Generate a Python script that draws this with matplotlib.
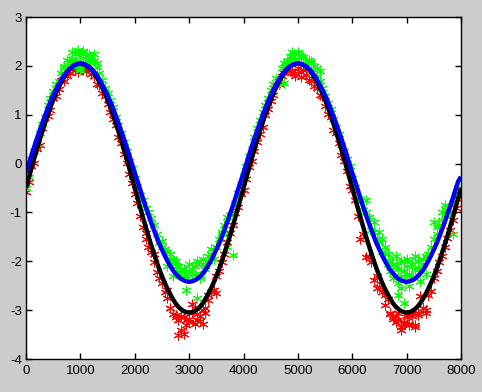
import numpy as np
import matplotlib
matplotlib.use("Agg")
import matplotlib.pyplot as plt

# x grid (step 50) shared by curves and base scatter
x_grid = np.arange(0, 8001, 50)

black_y = [
    -0.50, -0.30, -0.10, 0.10, 0.29, 0.48, 0.66, 0.83, 1.00, 1.16, 1.30, 1.44, 1.56, 1.67, 1.77, 1.86, 1.93, 1.98, 2.02, 2.04,
    2.05, 2.04, 2.02, 1.98, 1.93, 1.86, 1.77, 1.67, 1.56, 1.44, 1.30, 1.16, 1.00, 0.83, 0.66, 0.48, 0.29, 0.10, -0.10, -0.30,
    -0.50, -0.70, -0.90, -1.10, -1.29, -1.48, -1.66, -1.83, -2.00, -2.16, -2.30, -2.44, -2.56, -2.67, -2.77, -2.86, -2.93, -2.98, -3.02, -3.04,
    -3.05, -3.04, -3.02, -2.98, -2.93, -2.86, -2.77, -2.67, -2.56, -2.44, -2.30, -2.16, -2.00, -1.83, -1.66, -1.48, -1.29, -1.10, -0.90, -0.70,
    -0.50, -0.30, -0.10, 0.10, 0.29, 0.48, 0.66, 0.83, 1.00, 1.16, 1.30, 1.44, 1.56, 1.67, 1.77, 1.86, 1.93, 1.98, 2.02, 2.04,
    2.05, 2.04, 2.02, 1.98, 1.93, 1.86, 1.77, 1.67, 1.56, 1.44, 1.30, 1.16, 1.00, 0.83, 0.66, 0.48, 0.29, 0.10, -0.10, -0.30,
    -0.50, -0.70, -0.90, -1.10, -1.29, -1.48, -1.66, -1.83, -2.00, -2.16, -2.30, -2.44, -2.56, -2.67, -2.77, -2.86, -2.93, -2.98, -3.02, -3.04,
    -3.05, -3.04, -3.02, -2.98, -2.93, -2.86, -2.77, -2.67, -2.56, -2.44, -2.30, -2.16, -2.00, -1.83, -1.66, -1.48, -1.29, -1.10, -0.90, -0.70,
    -0.50,
]

blue_y = [
    -0.19, -0.01, 0.17, 0.34, 0.51, 0.67, 0.83, 0.98, 1.13, 1.27, 1.40, 1.51, 1.62, 1.72, 1.81, 1.88, 1.94, 1.99, 2.02, 2.04,
    2.05, 2.04, 2.02, 1.99, 1.94, 1.88, 1.81, 1.72, 1.62, 1.51, 1.40, 1.27, 1.13, 0.98, 0.83, 0.67, 0.51, 0.34, 0.17, -0.01,
    -0.19, -0.36, -0.53, -0.71, -0.88, -1.04, -1.20, -1.35, -1.50, -1.64, -1.76, -1.88, -1.99, -2.09, -2.18, -2.25, -2.31, -2.36, -2.39, -2.41,
    -2.42, -2.41, -2.39, -2.36, -2.31, -2.25, -2.18, -2.09, -1.99, -1.88, -1.76, -1.64, -1.50, -1.35, -1.20, -1.04, -0.88, -0.71, -0.53, -0.36,
    -0.19, -0.01, 0.17, 0.34, 0.51, 0.67, 0.83, 0.98, 1.13, 1.27, 1.40, 1.51, 1.62, 1.72, 1.81, 1.88, 1.94, 1.99, 2.02, 2.04,
    2.05, 2.04, 2.02, 1.99, 1.94, 1.88, 1.81, 1.72, 1.62, 1.51, 1.40, 1.27, 1.13, 0.98, 0.83, 0.67, 0.51, 0.34, 0.17, -0.01,
    -0.19, -0.36, -0.53, -0.71, -0.88, -1.04, -1.20, -1.35, -1.50, -1.64, -1.76, -1.88, -1.99, -2.09, -2.18, -2.25, -2.31, -2.36, -2.39, -2.41,
    -2.42, -2.41, -2.39, -2.36, -2.31, -2.25, -2.18, -2.09, -1.99, -1.88, -1.76, -1.64, -1.50, -1.35, -1.20, -1.04, -0.88, -0.71, -0.53, -0.36,
    -0.27,
]

red_y = [
    -0.58, -0.38, -0.05, 0.02, 0.30, 0.38, 0.72, 0.95, 0.98, 1.10, 1.35, 1.38, 1.52, 1.72, 1.70, 1.80, 1.85, 1.94, 1.92, 1.98,
    1.95, 2.00, 1.90, 1.92, 1.84, 1.80, 1.62, 1.60, 1.45, 1.38, 1.22, 1.05, 0.92, 0.78, 0.55, 0.42, 0.20, 0.02, -0.22, -0.40,
    -0.62, -0.80, -1.08, -1.30, -1.42, -1.70, -1.80, -2.02, -2.22, -2.35, -2.45, -2.62, -2.58, -2.95, -3.08, -3.15, -3.50, -3.12, -3.48, -3.20,
    -3.25, -2.88, -3.28, -3.08, -3.22, -3.00, -3.05, -2.68, -2.62, -2.58, -2.30, -2.20, -2.02, -1.85, -1.60, -1.42, -1.25, -1.02, -0.88, -0.62,
    -0.55, -0.32, -0.08, 0.05, 0.25, 0.45, 0.60, 0.75, 1.00, 1.12, 1.28, 1.40, 1.60, 1.62, 1.80, 1.85, 1.98, 1.90, 1.88, 1.80,
    1.95, 1.88, 1.92, 1.82, 1.72, 1.70, 1.58, 1.55, 1.40, 1.38, 1.18, 1.02, 0.95, 0.68, 0.62, 0.42, 0.18, 0.05, -0.15, -0.45,
    -0.55, -0.75, -1.08, -1.55, -1.45, -1.92, -1.90, -2.02, -2.38, -2.30, -2.52, -2.62, -2.70, -2.78, -3.08, -3.18, -3.12, -3.20, -3.35, -3.25,
    -3.10, -3.28, -3.12, -3.30, -3.05, -2.72, -2.95, -3.05, -2.68, -2.60, -2.35, -2.20, -2.02, -1.90, -1.70, -1.52, -1.35, -1.15, -0.90, -0.72,
    -0.55,
]

green_y = [
    -0.50, -0.28, 0.10, 0.25, 0.40, 0.62, 0.80, 0.95, 1.20, 1.35, 1.48, 1.62, 1.68, 1.85, 1.95, 2.12, 2.05, 2.28, 2.10, 2.32,
    1.92, 2.28, 2.20, 2.25, 2.05, 2.10, 1.98, 1.85, 1.72, 1.55, 1.45, 1.30, 1.15, 0.95, 0.78, 0.62, 0.45, 0.25, 0.05, -0.10,
    -0.30, -0.45, -0.65, -0.75, -0.90, -1.00, -1.12, -1.25, -1.45, -1.60, -1.58, -1.75, -1.80, -1.95, -2.00, -2.10, -2.25, -2.15, -2.30, -2.58,
    -2.20, -2.25, -2.10, -2.00, -2.35, -2.05, -2.15, -1.90, -1.75, -1.95, -1.70, -1.55, -1.40, -1.25, -1.10, -1.05, -1.00, -0.80, -0.60, -0.42,
    -0.25, -0.05, 0.15, 0.30, 0.55, 0.72, 0.90, 1.05, 1.20, 1.35, 1.50, 1.62, 1.75, 1.65, 1.95, 2.05, 2.10, 2.20, 2.28, 2.15,
    2.25, 2.20, 2.18, 2.10, 2.12, 2.05, 1.92, 1.80, 1.70, 1.55, 1.38, 1.25, 1.12, 0.92, 0.75, 0.60, 0.38, 0.25, 0.10, -0.05,
    -0.30, -0.48, -0.70, -0.72, -0.95, -1.00, -1.10, -1.35, -1.40, -1.55, -1.60, -1.80, -1.85, -2.05, -2.20, -2.35, -2.10, -2.45, -2.00, -2.20,
    -2.10, -2.30, -2.05, -2.15, -2.00, -2.40, -2.05, -2.25, -1.85, -1.70, -1.55, -1.45, -1.25, -1.15, -1.05, -0.95, -1.00, -0.80, -0.65, -0.50,
    -0.55,
]

# additional scattered samples (dense clusters near peaks and troughs)
red_extra_x = [2200, 2350, 2600, 2650, 2750, 2800, 2850, 2900, 2950, 3000, 3050, 3100, 3150, 3200, 3250, 3300, 3350, 3500,
               6300, 6450, 6600, 6700, 6750, 6800, 6850, 6900, 6950, 7000, 7050, 7100, 7150, 7200, 7300, 7350, 7400,
               950, 1050, 4950, 5050]
red_extra_y = [-1.55, -1.85, -2.75, -2.95, -3.10, -3.20, -3.40, -3.15, -3.30, -3.18, -3.05, -2.95, -3.20, -3.12, -3.28, -2.95, -2.80, -2.65,
               -1.92, -2.55, -2.90, -3.05, -3.15, -3.25, -3.05, -3.40, -3.28, -3.15, -3.30, -3.05, -3.35, -3.10, -2.95, -3.00, -2.70,
               1.88, 1.92, 1.85, 1.78]

green_extra_x = [700, 800, 850, 900, 950, 950, 1000, 1000, 1050, 1100, 1150, 1200, 1250, 1300,
                 4750, 4800, 4900, 4950, 5000, 5050, 5100, 5200, 5250, 5300, 5350, 5400,
                 2450, 2500, 2550, 2600, 2650, 2700, 2700, 2750, 2800, 2850, 2900, 2950, 3000, 3050, 3100, 3150, 3150,
                 3200, 3250, 3300, 3350, 3400, 3500, 3600, 3700, 3800,
                 6250, 6400, 6500, 6550, 6600, 6650, 6700, 6750, 6800, 6850, 6850, 6900, 6900, 6950, 6950, 7000,
                 7050, 7050, 7100, 7150, 7200, 7250, 7250, 7300, 7350, 7500, 7550, 7650, 7700, 7850]
green_extra_y = [2.00, 2.10, 2.15, 2.25, 2.30, 2.00, 2.20, 1.95, 2.30, 2.10, 2.20, 2.12, 2.25, 2.05,
                 1.65, 2.05, 2.20, 2.15, 2.28, 2.20, 2.18, 2.05, 2.10, 2.00, 1.95, 1.90,
                 -1.60, -1.70, -1.75, -2.10, -1.85, -1.95, -2.30, -2.00, -2.10, -2.20, -2.15, -2.28, -2.05, -2.15, -2.25, -2.05, -2.75,
                 -2.30, -1.95, -2.10, -2.00, -1.85, -1.70, -1.45, -1.70, -1.88,
                 -0.75, -1.20, -1.40, -1.55, -1.70, -1.85, -2.00, -2.05, -1.90, -2.15, -2.70, -2.30, -2.55, -2.00, -2.85, -1.95,
                 -2.25, -2.50, -2.05, -1.90, -2.00, -2.15, -2.40, -1.95, -1.90, -1.20, -1.30, -1.00, -0.85, -1.45]

x_ticks = [0, 1000, 2000, 3000, 4000, 5000, 6000, 7000, 8000]
y_ticks = [-4, -3, -2, -1, 0, 1, 2, 3]

plt.rcParams['font.family'] = ['Liberation Sans', 'DejaVu Sans']

fig = plt.figure(figsize=(4.82, 3.92), dpi=100, facecolor='#cccccc')
ax = fig.add_axes([26 / 482, 33 / 392, 435 / 482, 342 / 392])
ax.set_facecolor('white')

star = (6, 2, 0)
ms = 7
mw = 0.75
ax.plot(x_grid, red_y, linestyle='none', marker=star, ms=ms, mec='#ff0000', mew=mw)
ax.plot(red_extra_x, red_extra_y, linestyle='none', marker=star, ms=ms, mec='#ff0000', mew=mw)
ax.plot(x_grid, green_y, linestyle='none', marker=star, ms=ms, mec='#00ff00', mew=mw)
ax.plot(green_extra_x, green_extra_y, linestyle='none', marker=star, ms=ms, mec='#00ff00', mew=mw)
ax.plot(x_grid, black_y, color='black', lw=3.2, solid_capstyle='butt')
ax.plot(x_grid, blue_y, color='#0000ff', lw=3.2, solid_capstyle='butt')

ax.set_xlim(0, 8000)
ax.set_ylim(-4, 3)
ax.set_xticks(x_ticks)
ax.set_yticks(y_ticks)
ax.set_xticklabels([str(v) for v in x_ticks])
ax.set_yticklabels([str(v) for v in y_ticks])
ax.tick_params(direction='in', length=4, width=1, top=True, right=True,
               labelsize=9.5, colors='black')
ax.tick_params(axis='x', pad=4)
ax.tick_params(axis='y', pad=3)
for s in ax.spines.values():
    s.set_linewidth(1)
    s.set_color('black')

fig.savefig('out.png', dpi=100, facecolor=fig.get_facecolor())
